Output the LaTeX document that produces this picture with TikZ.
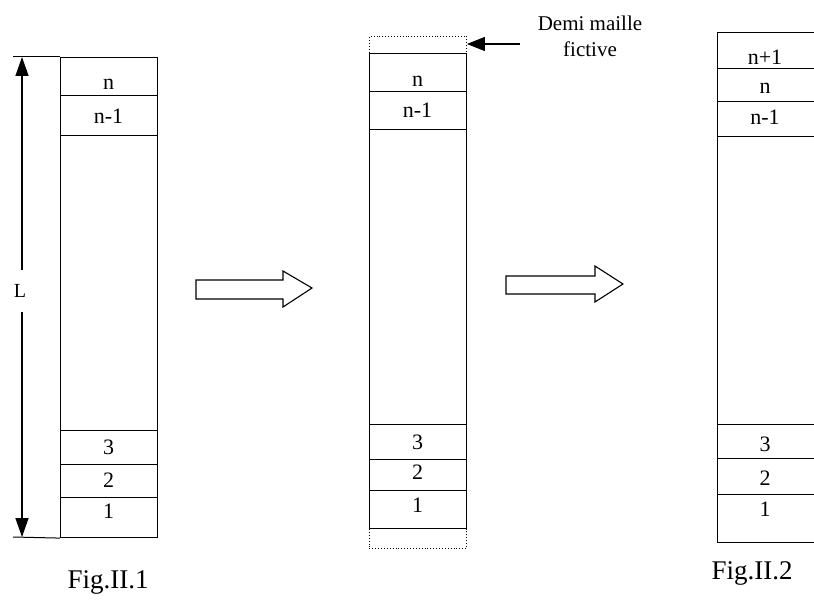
\documentclass[tikz,border=0pt]{standalone}
\usepackage{fontspec}
\setmainfont{Liberation Serif}
\usetikzlibrary{arrows.meta,positioning}
\tikzset{
  cell/.style={draw, line width=1.1pt, minimum width=97pt, inner sep=0pt, anchor=north west},
  num/.style={inner sep=0pt, font=\fontsize{22}{24}\selectfont},
  ghost/.style={draw, dotted, line width=0.9pt, minimum width=97pt, inner sep=0pt, anchor=north west},
  blockarrow/.style={draw, line width=1.1pt, fill=white, line join=miter},
  dimline/.style={line width=1.4pt},
  caption/.style={font=\fontsize{27}{30}\selectfont},
}
\begin{document}
\begin{tikzpicture}[x=1pt,y=-1pt]
\useasboundingbox (0,0) rectangle (814,604);
\clip (0,0) rectangle (814,604);
% ---------- left column ----------
\node[cell, minimum height=38pt] (L-n) at (60,57) {};
\node[cell, minimum height=40pt] (L-n1) at (60,95) {};
\node[cell, minimum height=295pt] (L-mid) at (60,135) {};
\node[cell, minimum height=34pt] (L-3) at (60,430) {};
\node[cell, minimum height=33pt] (L-2) at (60,464) {};
\node[cell, minimum height=40pt] (L-1) at (60,497) {};
\node[num] (L-nt) at (108.5,84) {n};
\node[num] (L-n1t) at (108.5,116) {n-1};
\node[num] (L-3t) at (108.5,447) {3};
\node[num] (L-2t) at (108.5,480) {2};
\node[num] (L-1t) at (108.5,511) {1};
% dimension L
\coordinate (Ltop) at (22,57);
\coordinate (Lbot) at (22,537);
\draw[line width=1pt] (13,57) -- (L-n.north west);
\draw[line width=1pt] (13,537) -- (L-1.south west);
\node[inner sep=0pt, minimum height=42pt, font=\fontsize{20}{22}\selectfont] (Llab) at (20,291) {L};
\draw[dimline, -{Triangle[width=13pt,length=19pt]}] (Llab.north -| Ltop) -- (Ltop);
\draw[dimline, -{Triangle[width=13pt,length=19pt]}] (Llab.south -| Lbot) -- (Lbot);
\node[caption] (cap1) at (108,582) {Fig.II.1};
% ---------- first block arrow ----------
\draw[blockarrow] (196,280) -- (283,280) -- (283,271) -- (312,288) -- (283,307) -- (283,299) -- (196,299) -- cycle;
% ---------- middle column ----------
\node[ghost, minimum height=17pt] (M-top) at (369,36) {};
\node[cell, minimum height=38pt] (M-n) at (369,53) {};
\node[cell, minimum height=38pt] (M-n1) at (369,91) {};
\node[cell, minimum height=295pt] (M-mid) at (369,129) {};
\node[cell, minimum height=35pt] (M-3) at (369,424) {};
\node[cell, minimum height=31pt] (M-2) at (369,459) {};
\node[cell, minimum height=38pt] (M-1) at (369,490) {};
\node[ghost, minimum height=20pt] (M-bot) at (369,528) {};
\node[num] (M-nt) at (417.5,81) {n};
\node[num] (M-n1t) at (417.5,110) {n-1};
\node[num] (M-3t) at (417.5,442) {3};
\node[num] (M-2t) at (417.5,472) {2};
\node[num] (M-1t) at (417.5,505) {1};
\node[align=center, font=\fontsize{21}{26}\selectfont] (demi) at (590,36) {Demi maille\\fictive};
\coordinate (demiend) at (520,44);
\draw[line width=1.2pt, -{Triangle[width=14pt,length=18pt]}] (demiend) -- (M-top.east |- demiend);
% ---------- second block arrow ----------
\draw[blockarrow] (506,276) -- (595,276) -- (595,266) -- (623,284) -- (595,302) -- (595,294) -- (506,294) -- cycle;
% ---------- right column ----------
\node[cell, minimum height=36pt] (R-n2) at (717,32) {};
\node[cell, minimum height=33pt] (R-n) at (717,68) {};
\node[cell, minimum height=35pt] (R-n1) at (717,101) {};
\node[cell, minimum height=288pt] (R-mid) at (717,136) {};
\node[cell, minimum height=34pt] (R-3) at (717,424) {};
\node[cell, minimum height=36pt] (R-2) at (717,458) {};
\node[cell, minimum height=48pt] (R-1) at (717,494) {};
\node[num] (R-n2t) at (765,57) {n+1};
\node[num] (R-nt) at (765,88) {n};
\node[num] (R-n1t) at (765,117) {n-1};
\node[num] (R-3t) at (765,444) {3};
\node[num] (R-2t) at (765,478) {2};
\node[num] (R-1t) at (765,509) {1};
\node[caption] (cap2) at (752,573) {Fig.II.2};
\end{tikzpicture}
\end{document}
